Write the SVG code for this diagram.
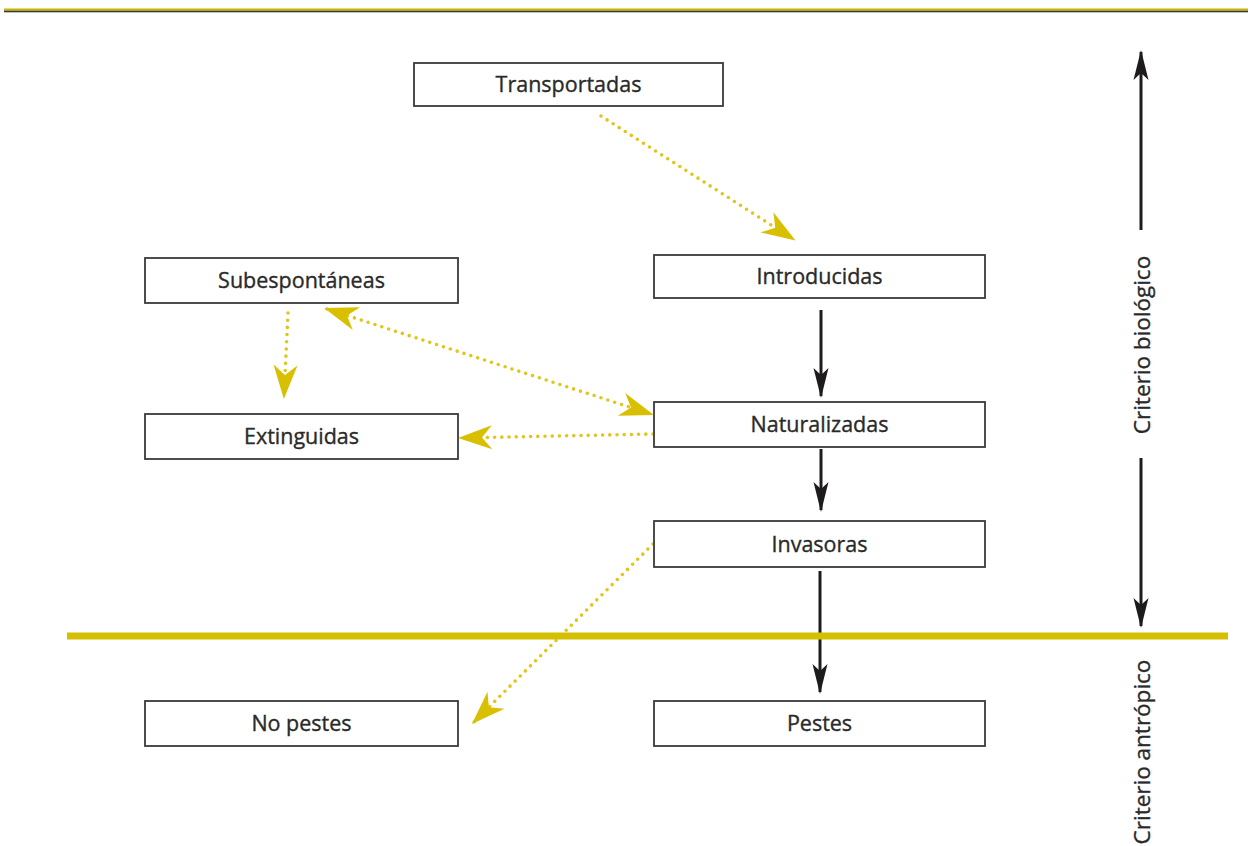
<svg xmlns="http://www.w3.org/2000/svg" width="1252" height="846" viewBox="0 0 1252 846">
<style>
.box{fill:#fff;stroke:#3a3a3a;stroke-width:1.8}
.lbl{font-family:"Open Sans","Noto Sans",sans-serif;font-size:21.5px;fill:#2a2a2a;stroke:#2a2a2a;stroke-width:0.35;text-anchor:middle}
.ax{font-size:22.5px}
.dot{fill:none;stroke:#e0c51a;stroke-width:3.6;stroke-linecap:round;stroke-dasharray:0 7.2}
.blk{fill:none;stroke:#1e1b1c;stroke-width:3}
</style>
<defs>
<marker id="ya" markerUnits="userSpaceOnUse" viewBox="-34 -13 38 26" markerWidth="38" markerHeight="26" refX="0" refY="0" orient="auto-start-reverse">
<path d="M3,0 L-31,-12 L-21,0 L-31,12 Z" fill="#d8c000"/>
</marker>
<marker id="ba" markerUnits="userSpaceOnUse" viewBox="-32 -9 36 18" markerWidth="36" markerHeight="18" refX="0" refY="0" orient="auto-start-reverse">
<path d="M2,0 L-28,-7.5 L-21,0 L-28,7.5 Z" fill="#1e1b1c"/>
</marker>
</defs>
<rect width="1252" height="846" fill="#fff"/>
<rect x="4" y="8.5" width="1244" height="2.2" fill="#c9b400"/>
<rect x="4" y="10.7" width="1244" height="1.6" fill="#3a3a2a"/>
<g id="connectors">
<line class="dot" x1="601" y1="116" x2="793" y2="239" marker-end="url(#ya)"/>
<line class="dot" x1="288" y1="313" x2="284" y2="396" marker-end="url(#ya)"/>
<line class="dot" x1="327" y1="309" x2="651" y2="414" marker-start="url(#ya)" marker-end="url(#ya)"/>
<line class="dot" x1="653" y1="434" x2="461" y2="438" marker-end="url(#ya)"/>
<line class="dot" x1="653" y1="544" x2="474" y2="722" marker-end="url(#ya)"/>
<line class="blk" x1="821" y1="310" x2="821" y2="396" marker-end="url(#ba)"/>
<line class="blk" x1="821" y1="449" x2="821" y2="510" marker-end="url(#ba)"/>
<line class="blk" x1="820" y1="571" x2="820" y2="692" marker-end="url(#ba)"/>
<line class="blk" x1="1141" y1="230" x2="1141" y2="52" marker-end="url(#ba)"/>
<line class="blk" x1="1141" y1="458" x2="1141" y2="626" marker-end="url(#ba)"/>
</g>
<rect id="divider" x="67" y="632.5" width="1161" height="7" fill="#d4c000"/>
<g id="transportadas"><rect class="box" x="414" y="63" width="309" height="43"/><text class="lbl" x="568.5" y="92">Transportadas</text></g>
<g id="subespontaneas"><rect class="box" x="145" y="258" width="313" height="45"/><text class="lbl" x="301.5" y="288">Subespontáneas</text></g>
<g id="introducidas"><rect class="box" x="654" y="255" width="331" height="43"/><text class="lbl" x="819.5" y="284">Introducidas</text></g>
<g id="extinguidas"><rect class="box" x="145" y="414" width="313" height="45"/><text class="lbl" x="301.5" y="444">Extinguidas</text></g>
<g id="naturalizadas"><rect class="box" x="654" y="402" width="331" height="45"/><text class="lbl" x="819.5" y="432">Naturalizadas</text></g>
<g id="invasoras"><rect class="box" x="654" y="521" width="331" height="46"/><text class="lbl" x="819.5" y="551.5">Invasoras</text></g>
<g id="nopestes"><rect class="box" x="145" y="701" width="313" height="45"/><text class="lbl" x="301.5" y="731">No pestes</text></g>
<g id="pestes"><rect class="box" x="654" y="701" width="331" height="45"/><text class="lbl" x="819.5" y="731">Pestes</text></g>
<g id="axis-labels">
<text class="lbl ax" transform="translate(1150,345) rotate(-90)">Criterio biológico</text>
<text class="lbl ax" transform="translate(1150,752) rotate(-90)">Criterio  antrópico</text>
</g>
</svg>
